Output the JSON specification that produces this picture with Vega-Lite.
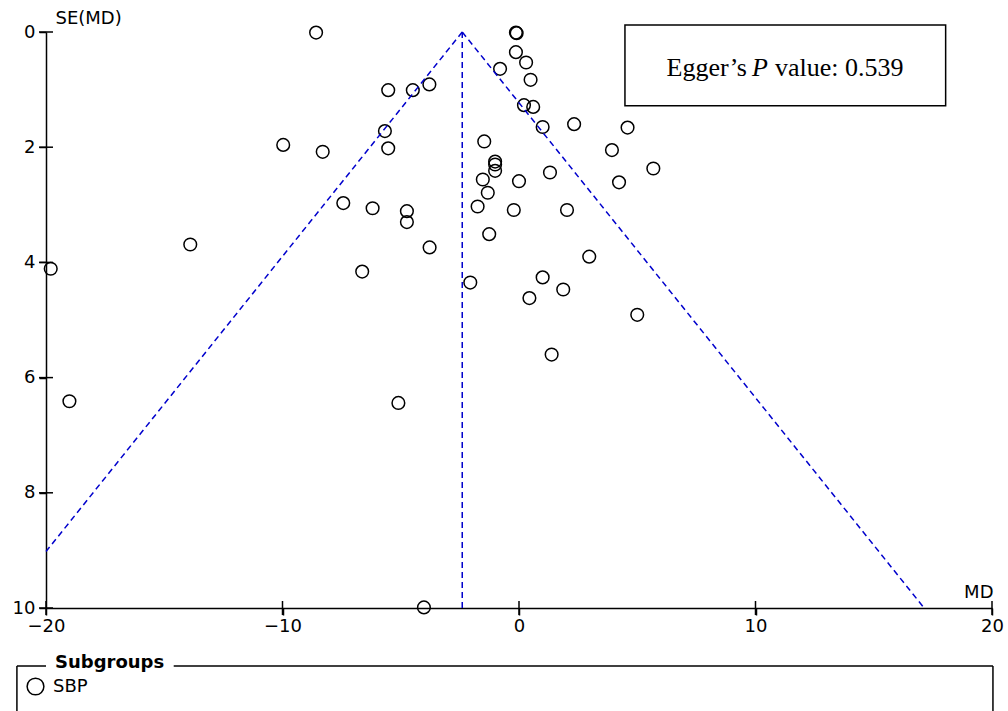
{
  "$schema": "https://vega.github.io/schema/vega-lite/v6.json",
  "width": 946,
  "height": 576,
  "autosize": {"type": "none"},
  "padding": {"left": 46, "top": 32, "right": 16, "bottom": 103},
  "background": "white",
  "config": {"view": {"stroke": null}, "font": "DejaVu Sans"},
  "datasets": {
    "studies": [
      {"md": -8.58, "se": 0.01, "subgroup": "SBP"},
      {"md": -0.13, "se": 0.01, "subgroup": "SBP"},
      {"md": -0.10, "se": 0.02, "subgroup": "SBP"},
      {"md": -0.13, "se": 0.35, "subgroup": "SBP"},
      {"md": 0.30, "se": 0.53, "subgroup": "SBP"},
      {"md": -0.80, "se": 0.64, "subgroup": "SBP"},
      {"md": 0.49, "se": 0.83, "subgroup": "SBP"},
      {"md": -5.53, "se": 1.01, "subgroup": "SBP"},
      {"md": -4.49, "se": 1.01, "subgroup": "SBP"},
      {"md": -3.79, "se": 0.91, "subgroup": "SBP"},
      {"md": 0.21, "se": 1.27, "subgroup": "SBP"},
      {"md": 0.60, "se": 1.30, "subgroup": "SBP"},
      {"md": 1.00, "se": 1.65, "subgroup": "SBP"},
      {"md": 2.33, "se": 1.60, "subgroup": "SBP"},
      {"md": 4.59, "se": 1.66, "subgroup": "SBP"},
      {"md": -5.67, "se": 1.72, "subgroup": "SBP"},
      {"md": -5.53, "se": 2.02, "subgroup": "SBP"},
      {"md": -9.97, "se": 1.96, "subgroup": "SBP"},
      {"md": -8.30, "se": 2.08, "subgroup": "SBP"},
      {"md": -1.47, "se": 1.90, "subgroup": "SBP"},
      {"md": -1.01, "se": 2.25, "subgroup": "SBP"},
      {"md": -1.01, "se": 2.30, "subgroup": "SBP"},
      {"md": -1.01, "se": 2.41, "subgroup": "SBP"},
      {"md": 3.93, "se": 2.05, "subgroup": "SBP"},
      {"md": 5.68, "se": 2.37, "subgroup": "SBP"},
      {"md": 1.31, "se": 2.44, "subgroup": "SBP"},
      {"md": 4.23, "se": 2.61, "subgroup": "SBP"},
      {"md": -1.53, "se": 2.56, "subgroup": "SBP"},
      {"md": 0.00, "se": 2.59, "subgroup": "SBP"},
      {"md": -1.32, "se": 2.79, "subgroup": "SBP"},
      {"md": -7.43, "se": 2.97, "subgroup": "SBP"},
      {"md": -6.19, "se": 3.06, "subgroup": "SBP"},
      {"md": -4.74, "se": 3.11, "subgroup": "SBP"},
      {"md": -4.74, "se": 3.30, "subgroup": "SBP"},
      {"md": -1.75, "se": 3.03, "subgroup": "SBP"},
      {"md": -0.22, "se": 3.09, "subgroup": "SBP"},
      {"md": 2.03, "se": 3.09, "subgroup": "SBP"},
      {"md": -1.26, "se": 3.51, "subgroup": "SBP"},
      {"md": -3.78, "se": 3.74, "subgroup": "SBP"},
      {"md": -13.90, "se": 3.69, "subgroup": "SBP"},
      {"md": 2.97, "se": 3.90, "subgroup": "SBP"},
      {"md": -19.80, "se": 4.11, "subgroup": "SBP"},
      {"md": -6.63, "se": 4.16, "subgroup": "SBP"},
      {"md": 1.00, "se": 4.26, "subgroup": "SBP"},
      {"md": -2.06, "se": 4.35, "subgroup": "SBP"},
      {"md": 0.44, "se": 4.62, "subgroup": "SBP"},
      {"md": 1.87, "se": 4.47, "subgroup": "SBP"},
      {"md": 5.00, "se": 4.91, "subgroup": "SBP"},
      {"md": 1.38, "se": 5.60, "subgroup": "SBP"},
      {"md": -19.01, "se": 6.41, "subgroup": "SBP"},
      {"md": -5.10, "se": 6.44, "subgroup": "SBP"},
      {"md": -4.02, "se": 9.99, "subgroup": "SBP"}
    ],
    "funnel": [
      {"x": -2.4, "y": 0, "x2": 17.13, "y2": 10},
      {"x": -2.4, "y": 0, "x2": -20, "y2": 9.02},
      {"x": -2.4, "y": 0, "x2": -2.4, "y2": 10}
    ],
    "xticks": [
      {"x": -20, "y": 10}, {"x": -10, "y": 10}, {"x": 0, "y": 10}, {"x": 10, "y": 10}, {"x": 20, "y": 10}
    ],
    "yticks": [
      {"x": -20, "y": 0}, {"x": -20, "y": 2}, {"x": -20, "y": 4}, {"x": -20, "y": 6}, {"x": -20, "y": 8}, {"x": -20, "y": 10}
    ],
    "box": [{"x": 4.48, "x2": 18.04, "y": -0.12, "y2": 1.28}],
    "eggerA": [{"x": 9.64, "y": 0.764, "t": "Egger’s"}],
    "eggerB": [{"x": 10.19, "y": 0.764, "t": "P"}],
    "eggerC": [{"x": 10.82, "y": 0.764, "t": "value: 0.539"}],
    "frame": [
      {"x": -21.23, "x2": -20.0, "y": 11.007, "y2": 11.007},
      {"x": -14.6, "x2": 20.04, "y": 11.007, "y2": 11.007},
      {"x": -21.23, "x2": -21.23, "y": 11.007, "y2": 12.5},
      {"x": 20.04, "x2": 20.04, "y": 11.007, "y2": 12.5}
    ],
    "legendTitle": [{"x": -19.62, "y": 10.955, "t": "Subgroups"}]
  },
  "layer": [
    {
      "data": {"name": "studies"},
      "mark": {"type": "point", "filled": false, "color": "black", "strokeWidth": 1.5, "size": 160, "opacity": 1},
      "encoding": {
        "x": {
          "field": "md", "type": "quantitative",
          "scale": {"domain": [-20, 20], "nice": false, "zero": false},
          "axis": {
            "orient": "bottom", "values": [-20, -10, 0, 10, 20], "format": "d",
            "domainColor": "black", "domainWidth": 1.5, "tickColor": "black", "tickWidth": 1.5, "tickSize": 7,
            "labelFont": "DejaVu Sans", "labelFontSize": 18, "labelColor": "black", "labelPadding": 2,
            "labelFlush": false, "labelOverlap": false, "grid": false,
            "title": "MD", "titleFont": "DejaVu Sans", "titleFontSize": 18, "titleFontWeight": "normal", "titleColor": "black",
            "titleX": 947, "titleY": -16, "titleAlign": "right", "titleBaseline": "middle", "titleAngle": 0
          }
        },
        "y": {
          "field": "se", "type": "quantitative",
          "scale": {"domain": [0, 10], "reverse": true, "nice": false, "zero": false},
          "axis": {
            "orient": "left", "values": [0, 2, 4, 6, 8, 10], "format": "d",
            "domainColor": "black", "domainWidth": 1.5, "tickColor": "black", "tickWidth": 1.5, "tickSize": 7,
            "labelFont": "DejaVu Sans", "labelFontSize": 18, "labelColor": "black", "labelPadding": 4,
            "labelFlush": false, "labelOverlap": false, "grid": false,
            "title": "SE(MD)", "titleFont": "DejaVu Sans", "titleFontSize": 18, "titleFontWeight": "normal", "titleColor": "black",
            "titleX": 9, "titleY": -14, "titleAlign": "left", "titleBaseline": "middle", "titleAngle": 0
          }
        },
        "shape": {
          "field": "subgroup", "type": "nominal",
          "scale": {"domain": ["SBP"], "range": ["circle"]},
          "legend": {
            "orient": "none", "legendX": -20, "legendY": 645, "title": null, "padding": 0,
            "labelFont": "DejaVu Sans", "labelFontSize": 18, "labelColor": "black", "labelOffset": 8,
            "symbolSize": 280, "symbolStrokeWidth": 1.5, "symbolStrokeColor": "black", "symbolFillColor": "transparent"
          }
        }
      }
    },
    {
      "data": {"name": "funnel"},
      "mark": {"type": "rule", "color": "#0000CC", "strokeWidth": 1.5, "strokeDash": [6, 4]},
      "encoding": {
        "x": {"field": "x", "type": "quantitative", "scale": {"domain": [-20, 20], "nice": false, "zero": false}, "axis": null},
        "x2": {"field": "x2"},
        "y": {"field": "y", "type": "quantitative", "scale": {"domain": [0, 10], "reverse": true, "nice": false, "zero": false}, "axis": null},
        "y2": {"field": "y2"}
      }
    },
    {
      "data": {"name": "xticks"},
      "mark": {"type": "tick", "orient": "vertical", "color": "black", "size": 14, "thickness": 1.5, "opacity": 1},
      "encoding": {
        "x": {"field": "x", "type": "quantitative", "scale": {"domain": [-20, 20], "nice": false, "zero": false}, "axis": null},
        "y": {"field": "y", "type": "quantitative", "scale": {"domain": [0, 10], "reverse": true, "nice": false, "zero": false}, "axis": null}
      }
    },
    {
      "data": {"name": "yticks"},
      "mark": {"type": "tick", "orient": "horizontal", "color": "black", "size": 14, "thickness": 1.5, "opacity": 1},
      "encoding": {
        "x": {"field": "x", "type": "quantitative", "scale": {"domain": [-20, 20], "nice": false, "zero": false}, "axis": null},
        "y": {"field": "y", "type": "quantitative", "scale": {"domain": [0, 10], "reverse": true, "nice": false, "zero": false}, "axis": null}
      }
    },
    {
      "data": {"name": "box"},
      "mark": {"type": "rect", "fill": "white", "stroke": "black", "strokeWidth": 1.5},
      "encoding": {
        "x": {"field": "x", "type": "quantitative", "scale": {"domain": [-20, 20], "nice": false, "zero": false}, "axis": null},
        "x2": {"field": "x2"},
        "y": {"field": "y", "type": "quantitative", "scale": {"domain": [0, 10], "reverse": true, "nice": false, "zero": false}, "axis": null},
        "y2": {"field": "y2"}
      }
    },
    {
      "data": {"name": "eggerA"},
      "mark": {"type": "text", "font": "Liberation Serif", "fontSize": 26, "color": "black", "align": "right", "baseline": "alphabetic"},
      "encoding": {
        "x": {"field": "x", "type": "quantitative", "scale": {"domain": [-20, 20], "nice": false, "zero": false}, "axis": null},
        "y": {"field": "y", "type": "quantitative", "scale": {"domain": [0, 10], "reverse": true, "nice": false, "zero": false}, "axis": null},
        "text": {"field": "t"}
      }
    },
    {
      "data": {"name": "eggerB"},
      "mark": {"type": "text", "font": "Liberation Serif", "fontSize": 26, "fontStyle": "italic", "color": "black", "align": "center", "baseline": "alphabetic"},
      "encoding": {
        "x": {"field": "x", "type": "quantitative", "scale": {"domain": [-20, 20], "nice": false, "zero": false}, "axis": null},
        "y": {"field": "y", "type": "quantitative", "scale": {"domain": [0, 10], "reverse": true, "nice": false, "zero": false}, "axis": null},
        "text": {"field": "t"}
      }
    },
    {
      "data": {"name": "eggerC"},
      "mark": {"type": "text", "font": "Liberation Serif", "fontSize": 26, "color": "black", "align": "left", "baseline": "alphabetic"},
      "encoding": {
        "x": {"field": "x", "type": "quantitative", "scale": {"domain": [-20, 20], "nice": false, "zero": false}, "axis": null},
        "y": {"field": "y", "type": "quantitative", "scale": {"domain": [0, 10], "reverse": true, "nice": false, "zero": false}, "axis": null},
        "text": {"field": "t"}
      }
    },
    {
      "data": {"name": "frame"},
      "mark": {"type": "rule", "color": "black", "strokeWidth": 1.5},
      "encoding": {
        "x": {"field": "x", "type": "quantitative", "scale": {"domain": [-20, 20], "nice": false, "zero": false}, "axis": null},
        "x2": {"field": "x2"},
        "y": {"field": "y", "type": "quantitative", "scale": {"domain": [0, 10], "reverse": true, "nice": false, "zero": false}, "axis": null},
        "y2": {"field": "y2"}
      }
    },
    {
      "data": {"name": "legendTitle"},
      "mark": {"type": "text", "font": "DejaVu Sans", "fontSize": 18, "fontWeight": "bold", "color": "black", "align": "left", "baseline": "middle"},
      "encoding": {
        "x": {"field": "x", "type": "quantitative", "scale": {"domain": [-20, 20], "nice": false, "zero": false}, "axis": null},
        "y": {"field": "y", "type": "quantitative", "scale": {"domain": [0, 10], "reverse": true, "nice": false, "zero": false}, "axis": null},
        "text": {"field": "t"}
      }
    }
  ],
  "resolve": {"scale": {"x": "shared", "y": "shared"}, "axis": {"x": "independent", "y": "independent"}}
}
